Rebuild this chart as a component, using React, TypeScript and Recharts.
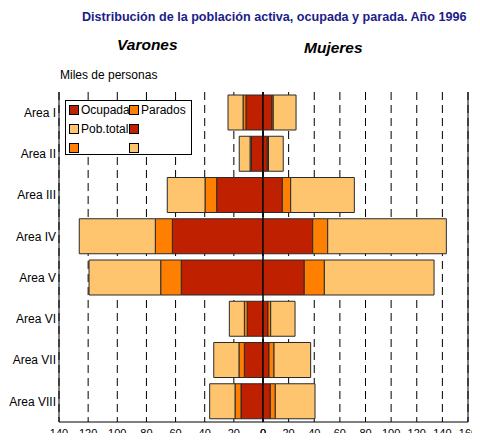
import { BarChart, Bar, XAxis, YAxis, CartesianGrid, ReferenceLine } from 'recharts';

const areas = ['Area I', 'Area II', 'Area III', 'Area IV', 'Area V', 'Area VI', 'Area VII', 'Area VIII'];

// Varones (miles de personas)
const varonesOcupados = [11.7, 7.9, 31.8, 62.2, 56.1, 10.8, 12.8, 15.1];
const varonesParados = [2.0, 1.0, 8.0, 11.7, 14.1, 2.0, 3.7, 4.1];
const varonesTotal = [24.0, 16.3, 65.7, 126.1, 119.4, 23.1, 33.8, 36.6];

// Mujeres (miles de personas)
const mujeresOcupados = [7.0, 3.4, 15.1, 38.8, 32.2, 3.9, 4.7, 5.7];
const mujeresParados = [1.0, 0.9, 6.5, 11.7, 15.7, 2.1, 3.9, 3.9];
const mujeresTotal = [25.8, 15.8, 71.3, 143.1, 133.5, 25.0, 37.2, 40.6];

const ticksVarones = [0, 20, 40, 60, 80, 100, 120, 140];
const ticksMujeres = [0, 20, 40, 60, 80, 100, 120, 140, 160];

const legendLabels = ['Ocupada', 'Parados', 'Pob.total', '', '', ''];

const C_OCUP = '#BF2000';
const C_PAR = '#FF8000';
const C_TOT = '#FFC46E';
const legendColors = [C_OCUP, C_PAR, C_TOT, C_OCUP, C_PAR, C_TOT];

const build = (ocup: number[], par: number[], tot: number[]) =>
  areas.map((area, i) => ({
    area,
    ocup: ocup[i],
    par: par[i],
    resto: +(tot[i] - ocup[i] - par[i]).toFixed(1),
  }));

const dataVarones = build(varonesOcupados, varonesParados, varonesTotal);
const dataMujeres = build(mujeresOcupados, mujeresParados, mujeresTotal);

const FONT = '"Liberation Sans", Arial, sans-serif';
const BAR_STROKE = '#2a2a2a';

// area labels flush against the axis line, never wrapped
function AreaTick({ x, y, payload }: any) {
  return (
    <text x={x - 1} y={y} dy="0.35em" textAnchor="end" fontSize={12} fontFamily={FONT} fill="#000">
      {payload.value}
    </text>
  );
}

// value labels under the plot; baseline set directly
function ValueTick({ x, y, payload }: any) {
  return (
    <text x={x} y={y + 15} textAnchor="middle" fontSize={11} fontFamily={FONT} fill="#000">
      {payload.value}
    </text>
  );
}

export default function App() {
  return (
    <div style={{ position: 'relative', margin: -8, width: 480, height: 441, fontFamily: FONT, background: '#fff', overflow: 'hidden' }}>
      <style>{`.recharts-surface{overflow:visible}`}</style>

      <div style={{ position: 'absolute', left: 82, top: 10, fontSize: 12.6, fontWeight: 'bold', color: '#1c1c8a', whiteSpace: 'nowrap' }}>
        Distribución de la población activa, ocupada y parada. Año 1996
      </div>
      <div style={{ position: 'absolute', left: 117, top: 36, fontSize: 15.5, fontWeight: 'bold', fontStyle: 'italic' }}>Varones</div>
      <div style={{ position: 'absolute', left: 304, top: 39, fontSize: 15.5, fontWeight: 'bold', fontStyle: 'italic' }}>Mujeres</div>
      <div style={{ position: 'absolute', left: 60, top: 68, fontSize: 12 }}>Miles de personas</div>

      <div style={{ position: 'absolute', left: 0, top: 0 }}>
        <BarChart width={263} height={441} data={dataVarones} layout="vertical" barSize={35}
          margin={{ top: 92, right: 0, bottom: 0, left: 0 }}>
          <CartesianGrid horizontal={false} stroke="#000" strokeDasharray="8 5" />
          <XAxis type="number" domain={[0, 140]} ticks={ticksVarones} reversed height={19} interval={0}
            tickLine={false} tickSize={0} tickMargin={0} tick={<ValueTick />} axisLine={{ stroke: '#000' }} />
          <XAxis xAxisId="top" orientation="top" type="number" domain={[0, 140]} reversed height={0}
            tick={false} tickLine={false} axisLine={{ stroke: '#000' }} />
          <YAxis type="category" dataKey="area" width={59} tickLine={false} tickSize={0} tickMargin={2}
            tick={<AreaTick />} axisLine={{ stroke: '#000' }} />
          <Bar dataKey="ocup" stackId="v" fill={C_OCUP} stroke={BAR_STROKE} isAnimationActive={false} />
          <Bar dataKey="par" stackId="v" fill={C_PAR} stroke={BAR_STROKE} isAnimationActive={false} />
          <Bar dataKey="resto" stackId="v" fill={C_TOT} stroke={BAR_STROKE} isAnimationActive={false} />
          <ReferenceLine x={0} stroke="#000" />
        </BarChart>
      </div>

      <div style={{ position: 'absolute', left: 263, top: 0 }}>
        <BarChart width={217} height={441} data={dataMujeres} layout="vertical" barSize={35}
          margin={{ top: 92, right: 12, bottom: 0, left: 0 }}>
          <CartesianGrid horizontal={false} stroke="#000" strokeDasharray="8 5" />
          <XAxis type="number" domain={[0, 160]} ticks={ticksMujeres} height={19} interval={0}
            tickLine={false} tickSize={0} tickMargin={0} tick={<ValueTick />} axisLine={{ stroke: '#000' }} />
          <XAxis xAxisId="top" orientation="top" type="number" domain={[0, 160]} height={0}
            tick={false} tickLine={false} axisLine={{ stroke: '#000' }} />
          <YAxis type="category" dataKey="area" hide />
          <Bar dataKey="ocup" stackId="m" fill={C_OCUP} stroke={BAR_STROKE} isAnimationActive={false} />
          <Bar dataKey="par" stackId="m" fill={C_PAR} stroke={BAR_STROKE} isAnimationActive={false} />
          <Bar dataKey="resto" stackId="m" fill={C_TOT} stroke={BAR_STROKE} isAnimationActive={false} />
          <ReferenceLine x={0} stroke="#000" />
          <ReferenceLine x={160} stroke="#000" />
        </BarChart>
      </div>

      <div style={{ position: 'absolute', left: 65, top: 100, width: 127, height: 55, border: '1px solid #000', background: '#fff', boxSizing: 'border-box' }}>
        {legendLabels.map((label, i) => (
          <div key={i} style={{ position: 'absolute', left: 3 + (i % 2) * 60, top: 3 + Math.floor(i / 2) * 19, height: 12, display: 'flex', alignItems: 'center', fontSize: 12, whiteSpace: 'nowrap', zIndex: i % 2 }}>
            <span style={{ display: 'inline-block', width: 8, height: 8, background: legendColors[i], border: '1px solid #000', marginRight: 2 }} />
            <span>{label}</span>
          </div>
        ))}
      </div>
    </div>
  );
}
